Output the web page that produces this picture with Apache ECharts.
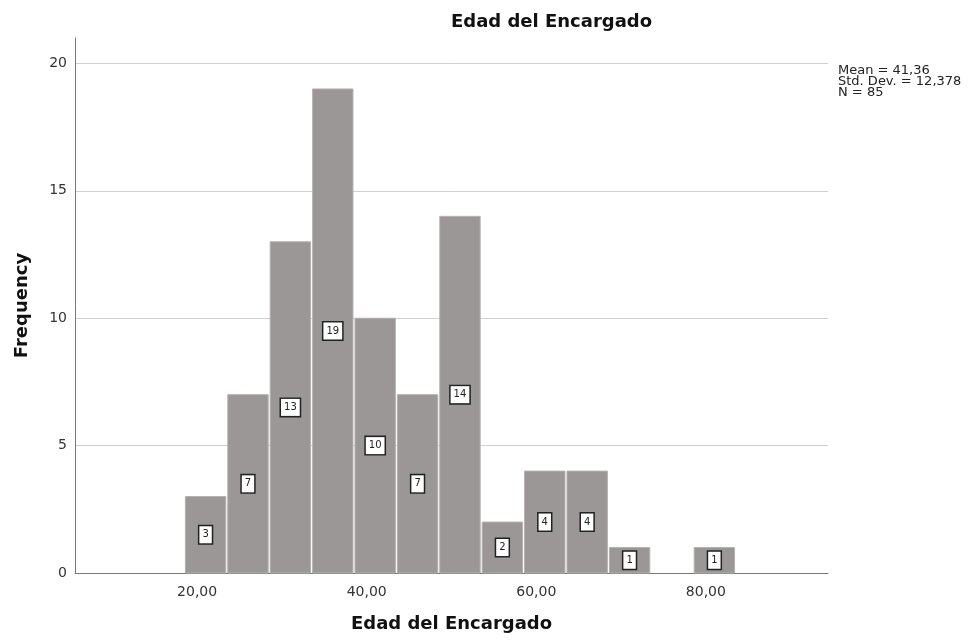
<!DOCTYPE html>
<html>
<head>
<meta charset="utf-8">
<script src="https://cdn.jsdelivr.net/npm/echarts@6/dist/echarts.min.js"></script>
<style>
html,body{margin:0;padding:0;background:#fff;}
#chart{width:973px;height:641px;}
</style>
</head>
<body>
<div id="chart"></div>
<script>
// Histogram bins (centres) and frequencies
const binCenters = [21, 26, 31, 36, 41, 46, 51, 56, 61, 66, 71, 76, 81];
const frequencies = [3, 7, 13, 19, 10, 7, 14, 2, 4, 4, 1, 0, 1];
const binWidth = 5;
const xTickValues = [20, 40, 60, 80];
const statsLines = ['Mean = 41,36', 'Std. Dev. = 12,378', 'N = 85'];
const chartTitle = 'Edad del Encargado';
const xAxisTitle = 'Edad del Encargado';
const yAxisTitle = 'Frequency';

const FONT = 'DejaVu Sans';
const chart = echarts.init(document.getElementById('chart'), null, {renderer: 'canvas'});

function renderItem(params, api) {
  const c = api.value(0), f = api.value(1);
  if (!f) return null;
  const p0 = api.coord([c - binWidth / 2, f]);
  const p1 = api.coord([c + binWidth / 2, 0]);
  const mid = api.coord([c, f / 2]);
  return {
    type: 'group',
    children: [
      {
        type: 'rect',
        shape: {x: p0[0] + 1, y: p0[1], width: p1[0] - p0[0] - 2, height: p1[1] - p0[1]},
        style: {fill: '#9b9797', stroke: '#b5b1b1', lineWidth: 1}
      },
      {
        type: 'text',
        x: mid[0], y: mid[1],
        style: {
          text: String(f), fill: '#222', fontSize: 10, fontFamily: FONT,
          align: 'center', verticalAlign: 'middle',
          backgroundColor: '#fff', borderColor: '#222', borderWidth: 1.5,
          padding: [4, 3, 3, 3]
        }
      }
    ]
  };
}

chart.setOption({
  animation: false,
  backgroundColor: '#fff',
  title: [
    {
      text: chartTitle, left: 446, top: 8,
      textStyle: {fontFamily: FONT, fontSize: 18, fontWeight: 'bold', color: '#111'}
    },
    {
      text: statsLines.join('\n'), left: 833, top: 60,
      textStyle: {fontFamily: FONT, fontSize: 13, fontWeight: 'normal', color: '#222', lineHeight: 11}
    }
  ],
  grid: {left: 75, right: 145, top: 38, bottom: 68, containLabel: false},
  xAxis: {
    type: 'value', min: 5.6, max: 94.4,
    name: xAxisTitle, nameLocation: 'middle', nameGap: 42,
    nameTextStyle: {fontFamily: FONT, fontSize: 18, fontWeight: 'bold', color: '#111'},
    axisLine: {show: true, lineStyle: {color: '#777', width: 1}},
    axisTick: {show: false},
    splitLine: {show: false},
    axisLabel: {
      customValues: xTickValues,
      fontFamily: FONT, fontSize: 14, color: '#333', margin: 12,
      formatter: v => v.toFixed(2).replace('.', ',')
    }
  },
  yAxis: {
    type: 'value', min: 0, max: 21, interval: 5,
    name: yAxisTitle, nameLocation: 'middle', nameGap: 44, nameRotate: 90,
    nameTextStyle: {fontFamily: FONT, fontSize: 18, fontWeight: 'bold', color: '#111'},
    axisLine: {show: true, lineStyle: {color: '#777', width: 1}},
    axisTick: {show: false},
    splitLine: {show: true, lineStyle: {color: ['#d0d0d0', '#d0d0d0', '#d0d0d0', '#d0d0d0', '#d0d0d0', 'rgba(0,0,0,0)'], width: 1}},
    axisLabel: {
      fontFamily: FONT, fontSize: 14, color: '#333', margin: 8,
      showMaxLabel: false,
      formatter: v => (v % 5 === 0 ? String(v) : '')
    }
  },
  series: [{
    type: 'custom',
    renderItem: renderItem,
    encode: {x: 0, y: 1},
    data: binCenters.map((c, i) => [c, frequencies[i]])
  }]
});
</script>
</body>
</html>
